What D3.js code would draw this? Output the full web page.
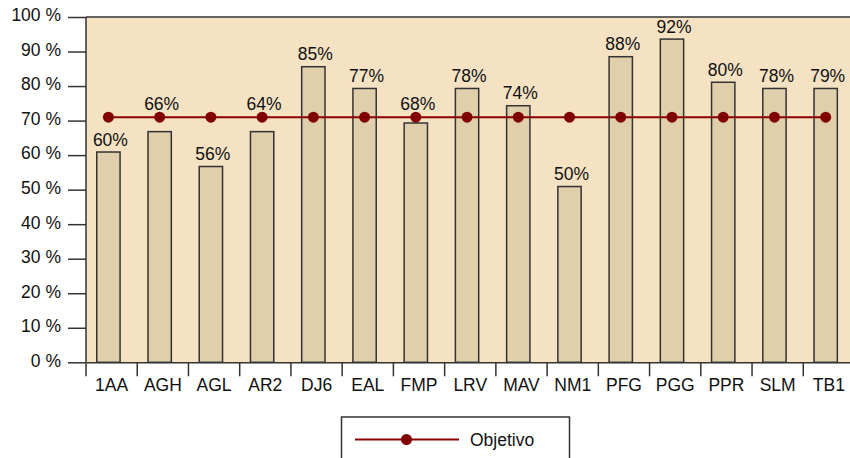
<!DOCTYPE html>
<html><head><meta charset="utf-8">
<script src="https://cdn.jsdelivr.net/npm/d3@7"></script>
<style>
html,body{margin:0;padding:0;background:#fff;}
svg{display:block;font-family:"Liberation Sans",Arial,sans-serif;}
</style></head>
<body><svg id="chart" width="850" height="458"></svg>
<script>
const categories = ["1AA","AGH","AGL","AR2","DJ6","EAL","FMP","LRV","MAV","NM1","PFG","PGG","PPR","SLM","TB1"];
const values = [60.9, 66.8, 56.7, 66.8, 85.6, 79.3, 69.3, 79.3, 74.3, 50.9, 88.5, 93.6, 81.1, 79.3, 79.3];
const valueLabels = ["60%","66%","56%","64%","85%","77%","68%","78%","74%","50%","88%","92%","80%","78%","79%"];
const objective = [71, 71, 71, 71, 71, 71, 71, 71, 71, 71, 71, 71, 71, 71, 71];
const yTicks = [0, 10, 20, 30, 40, 50, 60, 70, 80, 90, 100];
const legendLabel = "Objetivo";

(function () {
const svg = d3.select("#chart");
const mLeft = 86, mRight = 854.5, mTop = 17, mBottom = 362.3;

const x = d3.scaleBand().domain(categories).range([mLeft, mRight]).padding(0);
const y = d3.scaleLinear().domain([0, 100]).range([mBottom, mTop]);
const bw = x.bandwidth();
const barOff = bw * 0.21, barW = bw * 0.455;
const barCenter = c => x(c) + barOff + barW / 2;

// plot background
svg.append("rect").attr("x", mLeft).attr("y", mTop).attr("width", mRight - mLeft).attr("height", mBottom - mTop)
  .attr("fill", "#f4e2c3");

// bars
svg.append("g").selectAll("rect").data(categories).join("rect")
  .attr("x", c => x(c) + barOff)
  .attr("y", (c, i) => y(values[i]))
  .attr("width", barW)
  .attr("height", (c, i) => y(0) - y(values[i]))
  .attr("fill", "#e0cfab")
  .attr("stroke", "#333")
  .attr("stroke-width", 1.5);

// borders
svg.append("line").attr("x1", mLeft).attr("x2", mRight).attr("y1", mTop).attr("y2", mTop).attr("stroke", "#333").attr("stroke-width", 1.5);
svg.append("line").attr("x1", mLeft).attr("x2", mLeft).attr("y1", mTop).attr("y2", mBottom).attr("stroke", "#333").attr("stroke-width", 1.5);

// y axis
const yAxis = svg.append("g").attr("transform", `translate(${mLeft},0)`)
  .call(d3.axisLeft(y).tickValues(yTicks).tickFormat(d => d + " %").tickSize(18).tickPadding(7));
yAxis.select(".domain").remove();
yAxis.selectAll("line").attr("stroke", "#333").attr("stroke-width", 1.5);
yAxis.selectAll("text").attr("font-size", "17.5px").attr("fill", "#111").attr("font-family", "Liberation Sans, Arial, sans-serif").attr("dy", "0.22em");

// x axis
const xAxis = svg.append("g").attr("transform", `translate(0,${mBottom})`)
  .call(d3.axisBottom(x).tickSize(0).tickPadding(16));
xAxis.select(".domain").attr("stroke", "#333").attr("stroke-width", 1.5);
xAxis.selectAll("text").attr("font-size", "17.5px").attr("fill", "#111").attr("font-family", "Liberation Sans, Arial, sans-serif");
svg.append("g").selectAll("line").data(categories).join("line")
  .attr("x1", c => x(c)).attr("x2", c => x(c))
  .attr("y1", mBottom).attr("y2", mBottom + 14)
  .attr("stroke", "#333").attr("stroke-width", 1.5);

// objective line
const line = d3.line().x((d, i) => barCenter(categories[i])).y(d => y(d));
svg.append("path").datum(objective).attr("d", line).attr("fill", "none").attr("stroke", "#8b0000").attr("stroke-width", 2);
svg.append("g").selectAll("circle").data(objective).join("circle")
  .attr("cx", (d, i) => barCenter(categories[i])).attr("cy", d => y(d)).attr("r", 5.5).attr("fill", "#800000");

// value labels: above the bar, moved above the objective line if they would overlap it
function labelY(i) {
  const yb = y(values[i]), yo = y(objective[i]);
  const base = yb - 6.5;
  if (yb > yo && base - 14 < yo + 6) return yo - 7;
  return base;
}
svg.append("g").selectAll("text").data(categories).join("text")
  .attr("x", c => barCenter(c) + 2)
  .attr("y", (c, i) => labelY(i))
  .attr("text-anchor", "middle").attr("font-size", "17.5px").attr("fill", "#111")
  .text((c, i) => valueLabels[i]);

// legend
const lg = svg.append("g");
lg.append("rect").attr("x", 341.5).attr("y", 417).attr("width", 228).attr("height", 60)
  .attr("fill", "#fff").attr("stroke", "#333").attr("stroke-width", 1.5);
lg.append("line").attr("x1", 355).attr("x2", 459).attr("y1", 439.5).attr("y2", 439.5).attr("stroke", "#8b0000").attr("stroke-width", 2);
lg.append("circle").attr("cx", 406.5).attr("cy", 439.5).attr("r", 5.5).attr("fill", "#800000");
lg.append("text").attr("x", 470).attr("y", 446).attr("font-size", "17.5px").attr("fill", "#111").text(legendLabel);
})();
</script>
</body></html>
